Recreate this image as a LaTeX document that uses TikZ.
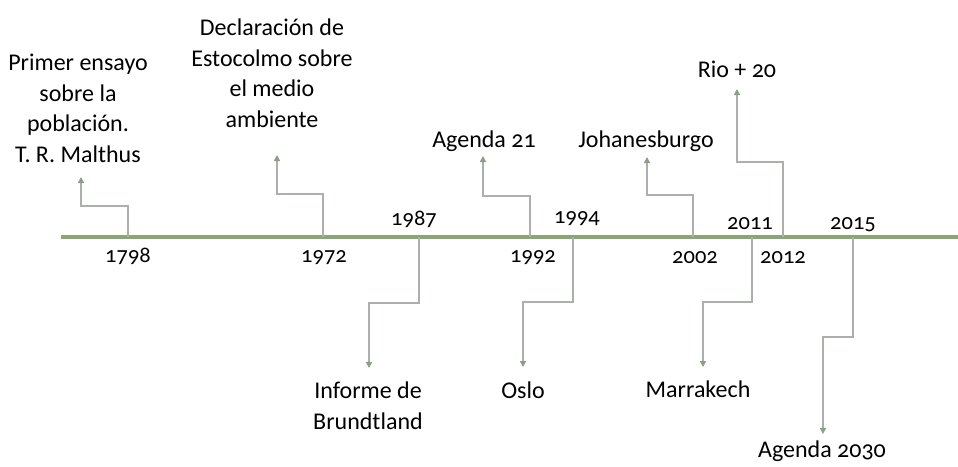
\documentclass[tikz,border=0pt]{standalone}
\usepackage{fontspec}
\setmainfont[Numbers=OldStyle]{Carlito}
\usetikzlibrary{arrows.meta}
\definecolor{lineGreen}{RGB}{137,166,118}
\definecolor{connGray}{RGB}{172,176,170}
\definecolor{tipGreen}{RGB}{140,158,132}

\begin{document}
\begin{tikzpicture}[x=1pt, y=-1pt,
  axis/.style = {draw=lineGreen, line width=4pt},
  conn/.style = {draw=connGray, line width=1.4pt, -{Triangle[width=6pt,length=6pt,color=tipGreen]}},
  lbl/.style = {align=center, inner sep=0pt, font=\fontsize{24}{30.5}\selectfont},
  yr/.style = {inner sep=0pt, anchor=base, font=\fontsize{22.5}{26}\selectfont}]

	\useasboundingbox (0,0) rectangle (958,466);

	% timeline
	\coordinate (start) at (61,237);
	\coordinate (end) at (958,237);
	\draw[axis] (start) -- (end);

	\coordinate (t1798) at (128,237);
	\coordinate (t1972) at (323,237);
	\coordinate (t1987) at (419,237);
	\coordinate (t1992) at (530,237);
	\coordinate (t1994) at (573,237);
	\coordinate (t2002) at (693,237);
	\coordinate (t2011) at (752,237);
	\coordinate (t2012) at (783,237);
	\coordinate (t2015) at (853,237);

	\node[yr] (y1798) at (128,262) {1798};
	\node[yr] (y1972) at (324,262) {1972};
	\node[yr] (y1987) at (414,225) {1987};
	\node[yr] (y1992) at (533,262) {1992};
	\node[yr] (y1994) at (577,223) {1994};
	\node[yr] (y2002) at (695,263) {2002};
	\node[yr] (y2011) at (750,229) {2011};
	\node[yr] (y2012) at (783,263) {2012};
	\node[yr] (y2015) at (853,229) {2015};

	% events above
	\node[lbl, anchor=north] (malthus) at (78,54) {Primer ensayo\\sobre la\\población.\\T. R. Malthus};
	\node[lbl, anchor=north] (estocolmo) at (272,19) {Declaración de\\Estocolmo sobre\\el medio\\ambiente};
	\node[lbl, anchor=base] (agenda21) at (484,147) {Agenda 21};
	\node[lbl, anchor=base] (johanesburgo) at (646,147) {Johanesburgo};
	\node[lbl, anchor=base] (rio) at (737,77) {Rio + 20};

	% events below
	\node[lbl, anchor=north] (informe) at (368,382) {Informe de\\Brundtland};
	\node[lbl, anchor=base] (oslo) at (523,398) {Oslo};
	\node[lbl, anchor=base] (marrakech) at (698,397) {Marrakech};
	\node[lbl, anchor=base] (agenda2030) at (822,457) {Agenda 2030};

	\coordinate (pMalthus) at (81,177);
	\coordinate (pEstocolmo) at (277,155);
	\coordinate (pAgenda21) at (483,156);
	\coordinate (pJohanesburgo) at (647,157);
	\coordinate (pRio) at (737,89);
	\coordinate (pInforme) at (369,368);
	\coordinate (pOslo) at (523,367);
	\coordinate (pMarrakech) at (703,367);
	\coordinate (pAgenda2030) at (823,434);

	\draw[conn] (t1798) -- ++(0,-31) -| (pMalthus);
	\draw[conn] (t1972) -- ++(0,-43) -| (pEstocolmo);
	\draw[conn] (t1992) -- ++(0,-41) -| (pAgenda21);
	\draw[conn] (t2002) -- ++(0,-42) -| (pJohanesburgo);
	\draw[conn] (t2012) -- ++(0,-75) -| (pRio);

	\draw[conn] (t1987) -- ++(0,66) -| (pInforme);
	\draw[conn] (t1994) -- ++(0,65) -| (pOslo);
	\draw[conn] (t2011) -- ++(0,65) -| (pMarrakech);
	\draw[conn] (t2015) -- ++(0,100) -| (pAgenda2030);

\end{tikzpicture}
\end{document}
